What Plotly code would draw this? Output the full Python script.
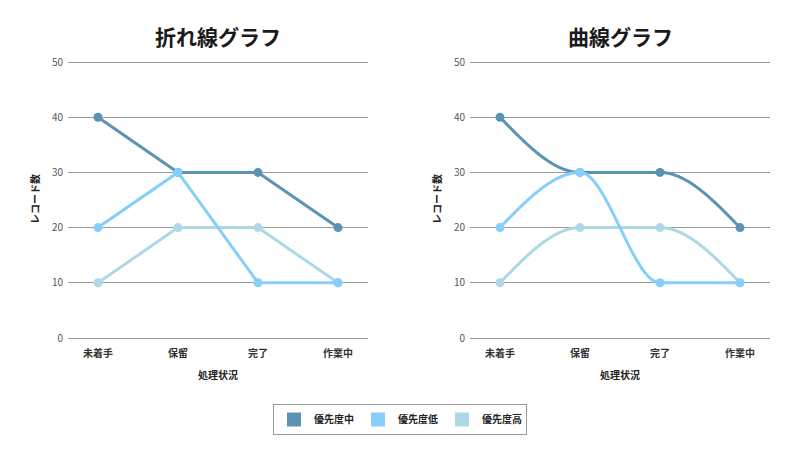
import numpy as np
import plotly.graph_objects as go

categories = ["未着手", "保留", "完了", "作業中"]
series_names = ["優先度中", "優先度低", "優先度高"]
mid_values = [40, 30, 30, 20]
low_values = [20, 30, 10, 10]
high_values = [10, 20, 20, 10]
y_ticks = [0, 10, 20, 30, 40, 50]

colors = ["#5b93b5", "#87cefa", "#add8e6"]
values = [mid_values, low_values, high_values]

FONT = "Noto Sans CJK JP"
W, H = 800, 462


def monotone_curve(ys, n=90):
    """Monotone cubic (Steffen) rendering of a line through the data points."""
    xs = np.arange(len(ys), dtype=float)
    ys = np.asarray(ys, dtype=float)
    h = np.diff(xs)
    s = np.diff(ys) / h
    m = np.zeros(len(ys))
    for i in range(1, len(ys) - 1):
        s0, s1 = s[i - 1], s[i]
        p = (s0 * h[i] + s1 * h[i - 1]) / (h[i - 1] + h[i])
        m[i] = (np.sign(s0) + np.sign(s1)) * min(abs(s0), abs(s1), 0.5 * abs(p))
    m[0] = (3 * s[0] - m[1]) / 2
    m[-1] = (3 * s[-1] - m[-2]) / 2
    px, py = [], []
    for i in range(len(ys) - 1):
        t = np.linspace(0, 1, n, endpoint=(i == len(ys) - 2))
        h00 = 2 * t**3 - 3 * t**2 + 1
        h10 = t**3 - 2 * t**2 + t
        h01 = -2 * t**3 + 3 * t**2
        h11 = t**3 - t**2
        px.extend(xs[i] + t * h[i])
        py.extend(h00 * ys[i] + h10 * h[i] * m[i] + h01 * ys[i + 1] + h11 * h[i] * m[i + 1])
    return px, py


fig = go.Figure()
xidx = list(range(len(categories)))

draw_order = [0, 2, 1]
for k in draw_order:
    fig.add_trace(go.Scatter(
        x=xidx, y=values[k], mode="lines+markers", name=series_names[k],
        line=dict(color=colors[k], width=3), marker=dict(color=colors[k], size=9),
        showlegend=False, xaxis="x", yaxis="y", hoverinfo="skip"))
    cx, cy = monotone_curve(values[k])
    fig.add_trace(go.Scatter(
        x=cx, y=cy, mode="lines", line=dict(color=colors[k], width=3, shape="spline"),
        showlegend=False, xaxis="x2", yaxis="y2", hoverinfo="skip"))
    fig.add_trace(go.Scatter(
        x=xidx, y=values[k], mode="markers", marker=dict(color=colors[k], size=9),
        showlegend=False, xaxis="x2", yaxis="y2", hoverinfo="skip"))

for k in range(3):
    fig.add_trace(go.Scatter(
        x=[None], y=[None], mode="markers", name=series_names[k],
        marker=dict(symbol="square", color=colors[k], size=14),
        xaxis="x", yaxis="y", showlegend=True))

# y range padded slightly so that the 0 and 50 grid lines are drawn
YPAD = 0.4
px_per_unit = (338 - 62) / 50
top_px = 62 - YPAD * px_per_unit
bot_px = 338 + YPAD * px_per_unit
ydom = [(H - bot_px) / H, (H - top_px) / H]

xcommon = dict(
    type="linear", range=[-0.375, 3.375], tickvals=xidx, ticktext=categories,
    showgrid=False, zeroline=False, showline=False, ticks="", automargin=False,
    ticklabelstandoff=6,
    tickfont=dict(family=FONT, size=10, color="#333333", weight="bold"), fixedrange=True)
ycommon = dict(
    range=[-YPAD, 50 + YPAD], tickvals=y_ticks, showgrid=True, gridcolor="#9a9a9a", gridwidth=1,
    zeroline=False, showline=False, ticks="", ticklabelstandoff=4, automargin=False,
    tickfont=dict(family=FONT, size=10, color="#555555"), fixedrange=True)

fig.update_layout(
    width=W, height=H, autosize=False,
    margin=dict(l=0, r=0, t=0, b=0, pad=0, autoexpand=False),
    paper_bgcolor="white", plot_bgcolor="white",
    font=dict(family=FONT, color="#222222"),
    xaxis=dict(domain=[68 / W, 368 / W], anchor="y", **xcommon),
    yaxis=dict(domain=ydom, anchor="x", **ycommon),
    xaxis2=dict(domain=[470 / W, 770 / W], anchor="y2", **xcommon),
    yaxis2=dict(domain=ydom, anchor="x2", **ycommon),
    legend=dict(
        orientation="h", x=0.5, xanchor="center", y=(H - 404) / H, yanchor="top",
        bordercolor="#999999", borderwidth=1, bgcolor="white", entrywidth=39,
        font=dict(family=FONT, size=10, color="#222222", weight="bold"),
        itemclick=False, itemdoubleclick=False),
    showlegend=True,
)

annotations = [
    dict(text="<b>折れ線グラフ</b>", x=218 / W, y=1 - 36 / H),
    dict(text="<b>曲線グラフ</b>", x=620 / W, y=1 - 36 / H),
]
for a in annotations:
    a.update(xref="paper", yref="paper", showarrow=False, xanchor="center", yanchor="middle",
             font=dict(family=FONT, size=21, color="#1a1a1a"))
for cx_ in (218, 620):
    annotations.append(dict(
        text="<b>処理状況</b>", x=cx_ / W, y=1 - 374 / H, xref="paper", yref="paper",
        showarrow=False, xanchor="center", yanchor="middle",
        font=dict(family=FONT, size=10, color="#222222")))
for cx_ in (34, 436):
    annotations.append(dict(
        text="<b>レコード数</b>", x=cx_ / W, y=1 - 199 / H, xref="paper", yref="paper",
        showarrow=False, xanchor="center", yanchor="middle", textangle=-90,
        font=dict(family=FONT, size=10, color="#222222")))
fig.update_layout(annotations=annotations)

fig.write_html(
    "out.html",
    config={"displayModeBar": False},
    post_script="document.body.style.margin='0';document.body.style.overflow='hidden';",
)
